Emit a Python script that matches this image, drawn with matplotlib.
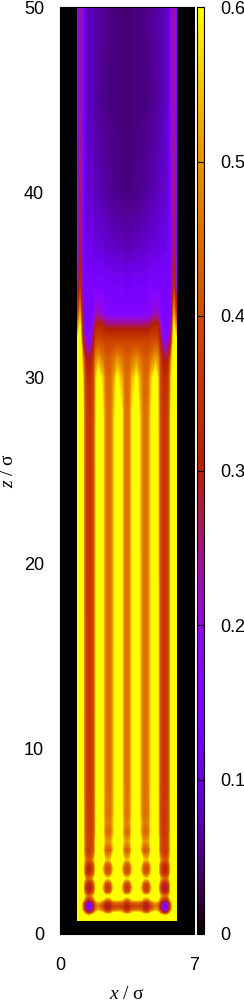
#!/usr/bin/env python
import numpy as np
import matplotlib
matplotlib.use('Agg')
import matplotlib.pyplot as plt

plt.rcParams['font.family'] = ['Liberation Sans', 'DejaVu Sans']
plt.rcParams['mathtext.fontset'] = 'custom'
plt.rcParams['mathtext.it'] = 'Liberation Serif:italic'
plt.rcParams['mathtext.rm'] = 'Liberation Serif'

# half of the channel, the other half is the mirror image
x_half = [0.9, 1.05, 1.2, 1.28, 1.38, 1.5, 1.65, 1.78, 1.87, 2.0, 2.25, 2.35, 2.5, 2.65, 2.75, 3.0, 3.25, 3.35, 3.5]
z_rows = [0.75, 1.0, 1.15, 1.3, 1.5, 1.7, 1.85, 2.05, 2.25, 2.5, 2.75, 3.0, 3.25, 3.5, 3.75, 4.0, 4.5, 5.0, 5.5, 6.0,
          6.5, 7.0, 8.0, 10.0, 28.0, 30.0, 31.0, 32.0, 32.7, 33.5, 35.0, 37.0, 40.0, 45.0, 50.0]
density = [
    [.70, .70, .70, .70, .66, .62, .66, .70, .70, .70, .70, .70, .70, .70, .70, .70, .70, .70, .70],
    [.70, .70, .70, .66, .60, .55, .60, .68, .70, .70, .70, .68, .66, .68, .70, .70, .70, .68, .66],
    [.70, .70, .60, .46, .34, .28, .34, .46, .58, .64, .56, .46, .42, .46, .56, .60, .56, .46, .42],
    [.60, .68, .46, .34, .20, .15, .20, .34, .46, .52, .42, .35, .30, .35, .42, .44, .42, .35, .32],
    [.52, .66, .44, .29, .14, .11, .15, .29, .42, .46, .36, .30, .22, .30, .36, .38, .36, .32, .27],
    [.60, .68, .46, .34, .20, .16, .22, .34, .46, .52, .42, .35, .30, .35, .42, .44, .42, .37, .33],
    [.70, .70, .60, .46, .36, .32, .37, .46, .58, .64, .56, .48, .44, .48, .56, .60, .56, .48, .44],
    [.70, .70, .70, .56, .46, .42, .46, .56, .68, .72, .70, .64, .60, .64, .70, .72, .70, .64, .60],
    [.70, .70, .64, .44, .35, .31, .35, .44, .60, .72, .56, .42, .38, .42, .56, .72, .56, .42, .38],
    [.70, .70, .60, .40, .28, .22, .28, .40, .56, .72, .50, .38, .35, .38, .50, .72, .50, .38, .35],
    [.70, .70, .64, .44, .35, .31, .35, .44, .60, .72, .56, .42, .38, .42, .56, .72, .56, .42, .38],
    [.70, .70, .70, .56, .44, .42, .46, .56, .68, .75, .70, .60, .55, .60, .70, .75, .70, .60, .55],
    [.70, .70, .64, .45, .36, .33, .36, .44, .62, .75, .56, .44, .41, .44, .56, .75, .56, .44, .41],
    [.70, .70, .62, .42, .33, .28, .32, .42, .58, .75, .52, .41, .38, .41, .50, .75, .52, .41, .38],
    [.70, .70, .64, .45, .36, .33, .36, .44, .62, .75, .56, .44, .41, .44, .56, .75, .56, .44, .41],
    [.70, .70, .66, .52, .42, .40, .43, .52, .66, .75, .68, .56, .52, .56, .68, .75, .68, .56, .52],
    [.70, .70, .60, .44, .37, .35, .37, .42, .58, .74, .57, .44, .41, .42, .50, .74, .57, .44, .41],
    [.70, .70, .62, .46, .38, .38, .38, .42, .60, .74, .62, .52, .49, .50, .56, .74, .62, .52, .49],
    [.70, .70, .60, .44, .37, .36, .37, .40, .56, .72, .58, .46, .43, .44, .50, .72, .58, .46, .43],
    [.70, .70, .60, .44, .37, .37, .37, .40, .56, .72, .60, .49, .47, .47, .52, .72, .60, .49, .47],
    [.70, .70, .60, .44, .37, .36, .36, .40, .56, .72, .58, .47, .44, .45, .50, .70, .58, .47, .44],
    [.70, .70, .60, .44, .37, .37, .37, .40, .56, .72, .59, .48, .46, .46, .50, .70, .58, .48, .46],
    [.70, .70, .60, .43, .37, .36, .36, .40, .56, .72, .58, .48, .45, .45, .50, .70, .58, .47, .45],
    [.70, .70, .60, .43, .37, .36, .36, .40, .56, .72, .58, .48, .45, .45, .50, .70, .58, .47, .45],
    [.70, .70, .60, .42, .37, .36, .36, .40, .55, .70, .58, .48, .45, .45, .50, .68, .58, .47, .45],
    [.70, .70, .55, .40, .34, .33, .34, .40, .54, .64, .54, .46, .44, .44, .48, .60, .52, .46, .44],
    [.66, .70, .48, .36, .29, .27, .30, .38, .48, .52, .46, .43, .42, .43, .45, .50, .46, .44, .43],
    [.58, .66, .30, .23, .19, .17, .20, .30, .38, .40, .39, .38, .38, .38, .38, .38, .38, .38, .38],
    [.46, .60, .22, .16, .14, .14, .16, .24, .31, .33, .31, .29, .28, .28, .28, .28, .28, .28, .28],
    [.32, .50, .17, .14, .13, .13, .14, .16, .20, .22, .18, .16, .16, .15, .15, .15, .15, .15, .15],
    [.16, .33, .15, .14, .14, .14, .14, .14, .14, .14, .14, .13, .13, .13, .13, .13, .13, .12, .12],
    [.14, .27, .15, .12, .12, .11, .11, .105, .10, .10, .095, .09, .09, .085, .085, .08, .08, .075, .075],
    [.14, .26, .15, .11, .10, .09, .085, .08, .08, .075, .07, .065, .06, .06, .055, .055, .05, .05, .05],
    [.14, .24, .15, .10, .09, .08, .075, .07, .065, .06, .055, .055, .05, .05, .05, .05, .045, .045, .045],
    [.14, .24, .15, .10, .09, .08, .075, .07, .07, .065, .06, .055, .055, .05, .05, .05, .045, .045, .04],
]
z_ticks = [0, 10, 20, 30, 40, 50]
x_ticks = [0, 7]
cb_ticks = [0, 0.1, 0.2, 0.3, 0.4, 0.5, 0.6]
cb_labels = ['0', '0.1', '0.2', '0.3', '0.4', '0.5', '0.6']

W, H = 244, 1002
fig = plt.figure(figsize=(W/100, H/100), dpi=100)
ax = fig.add_axes([60/W, 1-934/H, 134/W, 927/H])
ax.set_facecolor('black')

half = np.array(x_half)
x = np.concatenate([half, 7-half[-2::-1]])
rows = np.array(density)
vals = np.hstack([rows, rows[:, -2::-1]])

levels = np.linspace(0, 0.6, 129)
ax.contourf(x, z_rows, vals, levels=levels, cmap='gnuplot', extend='max', antialiased=False)

ax.set_xlim(0, 7)
ax.set_ylim(0, 50)
ax.set_xticks(x_ticks)
ax.set_yticks(z_ticks)
ax.tick_params(axis='x', length=0, pad=16.5, labelsize=13)
ax.tick_params(axis='y', length=0, pad=11.5, labelsize=13)
ax.set_xlabel(r'$x\ /\ \mathrm{σ}$', fontsize=14, labelpad=9)
ax.set_ylabel(r'$z\ /\ \mathrm{σ}$', fontsize=14, labelpad=5)

cax = fig.add_axes([196.5/W, 1-934/H, 7/W, 927/H])
sm = plt.cm.ScalarMappable(norm=plt.Normalize(0, 0.6), cmap='gnuplot')
cb = fig.colorbar(sm, cax=cax)
cb.set_ticks(cb_ticks)
cb.set_ticklabels(cb_labels)
cb.ax.tick_params(direction='in', length=5.2, width=0.8, pad=12, labelsize=13)
cb.outline.set_linewidth(0.8)

fig.savefig('out.png', dpi=100)
